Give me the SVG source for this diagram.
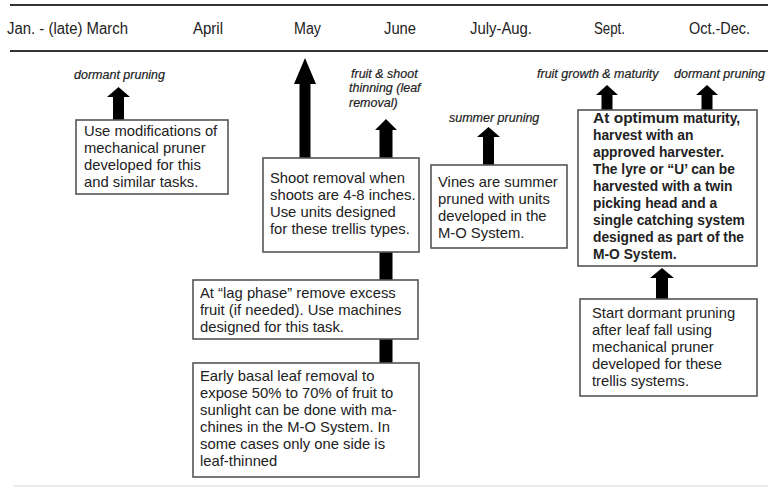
<svg xmlns="http://www.w3.org/2000/svg" width="768" height="488" viewBox="0 0 768 488">
<style>
.hdr{font-family:"Liberation Sans",Arial,sans-serif;font-size:16px;fill:#222;text-anchor:middle}
.box{fill:#fff;stroke:#555;stroke-width:1.6}
.t{font-family:"Liberation Sans",Arial,sans-serif;font-size:14.8px;fill:#222}
.tb{font-family:"Liberation Sans",Arial,sans-serif;font-size:13.8px;font-weight:bold;fill:#222}
.lbl{font-family:"Liberation Sans",Arial,sans-serif;font-size:12.5px;font-style:italic;fill:#222;stroke:#222;stroke-width:0.2}
.arr{fill:#000}
.rule{stroke:#333;stroke-width:2.2}
</style>
<rect width="768" height="488" fill="#fff"/>
<g id="header">
<line class="rule" x1="10" y1="5" x2="768" y2="5"/>
<line class="rule" x1="10" y1="51" x2="768" y2="51"/>
<text class="hdr" x="67.5" y="34" textLength="121" lengthAdjust="spacingAndGlyphs">Jan. - (late) March</text>
<text class="hdr" x="208" y="34" textLength="30" lengthAdjust="spacingAndGlyphs">April</text>
<text class="hdr" x="307.5" y="34" textLength="27" lengthAdjust="spacingAndGlyphs">May</text>
<text class="hdr" x="400" y="34" textLength="32" lengthAdjust="spacingAndGlyphs">June</text>
<text class="hdr" x="501" y="34" textLength="62" lengthAdjust="spacingAndGlyphs">July-Aug.</text>
<text class="hdr" x="609.5" y="34" textLength="31" lengthAdjust="spacingAndGlyphs">Sept.</text>
<text class="hdr" x="719.5" y="34" textLength="61" lengthAdjust="spacingAndGlyphs">Oct.-Dec.</text>
</g>
<g id="labels">
<text class="lbl" x="74" y="79">dormant pruning</text>
<text class="lbl" x="351" y="78">fruit &amp; shoot</text>
<text class="lbl" x="349" y="92">thinning (leaf</text>
<text class="lbl" x="349" y="107">removal)</text>
<text class="lbl" x="449" y="122">summer pruning</text>
<text class="lbl" x="537" y="78">fruit growth &amp; maturity</text>
<text class="lbl" x="674" y="78">dormant pruning</text>
</g>
<g id="connectors">
<path class="arr" d="M113,120 V97 H107 L118.5,87 L130,97 H124 V120 Z"/>
<path class="arr" d="M299.5,158 V84 H294 L305,58 L316,84 H310.5 V158 Z"/>
<path class="arr" d="M379.5,158 V130 H375 L386,119 L397,130 H392.5 V158 Z"/>
<path class="arr" d="M483,165 V137 H477 L488.5,127 L500,137 H494 V165 Z"/>
<path class="arr" d="M601.5,110 V95 H596 L607,85 L618,95 H612.5 V110 Z"/>
<path class="arr" d="M701.5,110 V95 H696 L707,85 L718,95 H712.5 V110 Z"/>
<path class="arr" d="M656,299 V278 H650 L662,268 L674,278 H668 V299 Z"/>
<rect class="arr" x="379.5" y="252" width="13" height="28"/>
<rect class="arr" x="379.5" y="339" width="13" height="24"/>
</g>
<g id="box-jan">
<rect class="box" x="76" y="120" width="152" height="74"/>
<text class="t" x="84" y="136">Use modifications of</text>
<text class="t" x="84" y="153">mechanical pruner</text>
<text class="t" x="84" y="170">developed for this</text>
<text class="t" x="84" y="187">and similar tasks.</text>
</g>
<g id="box-shoot">
<rect class="box" x="263" y="158" width="156" height="94"/>
<text class="t" x="270" y="183">Shoot removal when</text>
<text class="t" x="270" y="200">shoots are 4-8 inches.</text>
<text class="t" x="270" y="217">Use units designed</text>
<text class="t" x="270" y="234">for these trellis types.</text>
</g>
<g id="box-lag">
<rect class="box" x="193" y="280" width="225" height="59"/>
<text class="t" x="200" y="298">At “lag phase” remove excess</text>
<text class="t" x="200" y="315">fruit (if needed). Use machines</text>
<text class="t" x="200" y="332">designed for this task.</text>
</g>
<g id="box-early">
<rect class="box" x="193" y="363" width="226" height="114"/>
<text class="t" x="200" y="381">Early basal leaf removal to</text>
<text class="t" x="200" y="398">expose 50% to 70% of fruit to</text>
<text class="t" x="200" y="415">sunlight can be done with ma-</text>
<text class="t" x="200" y="432">chines in the M-O System. In</text>
<text class="t" x="200" y="449">some cases only one side is</text>
<text class="t" x="200" y="466">leaf-thinned</text>
</g>
<g id="box-vines">
<rect class="box" x="431" y="165" width="136" height="83"/>
<text class="t" x="438" y="187">Vines are summer</text>
<text class="t" x="438" y="204">pruned with units</text>
<text class="t" x="438" y="221">developed in the</text>
<text class="t" x="438" y="238">M-O System.</text>
</g>
<g id="box-harvest">
<rect class="box" x="578" y="110" width="179" height="156"/>
<text class="tb" x="593" y="123"><tspan font-size="15.5px">At optimum</tspan> maturity,</text>
<text class="tb" x="593" y="140">harvest with an</text>
<text class="tb" x="593" y="157">approved harvester.</text>
<text class="tb" x="593" y="174">The lyre or “U’ can be</text>
<text class="tb" x="593" y="191">harvested with a twin</text>
<text class="tb" x="593" y="208">picking head and a</text>
<text class="tb" x="593" y="225">single catching system</text>
<text class="tb" x="593" y="242">designed as part of the</text>
<text class="tb" x="593" y="259">M-O System.</text>
</g>
<g id="box-start">
<rect class="box" x="580" y="299" width="177" height="97"/>
<text class="t" x="592" y="318">Start dormant pruning</text>
<text class="t" x="592" y="335">after leaf fall using</text>
<text class="t" x="592" y="352">mechanical pruner</text>
<text class="t" x="592" y="369">developed for these</text>
<text class="t" x="592" y="386">trellis systems.</text>
</g>
<line x1="14" y1="486" x2="768" y2="486" stroke="#e2e2e2" stroke-width="1.5"/>
</svg>
